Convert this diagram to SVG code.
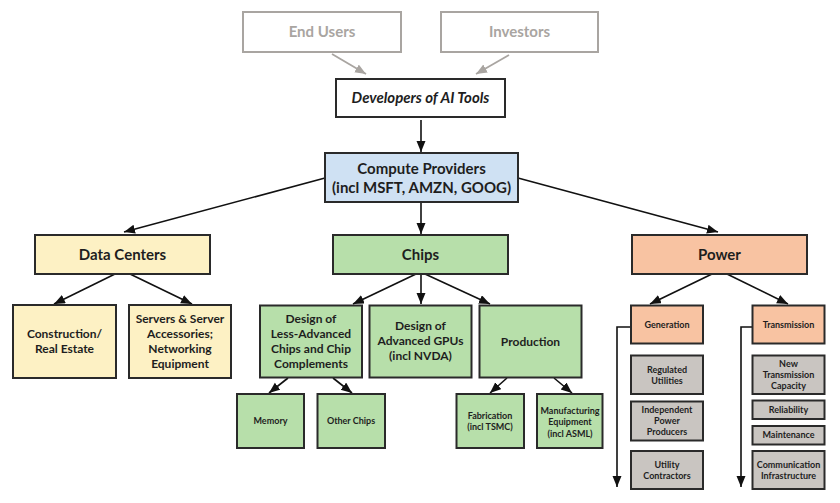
<svg xmlns="http://www.w3.org/2000/svg" width="840" height="503" viewBox="0 0 840 503">
<style>
text{font-family:Lato,"Liberation Sans",sans-serif;font-weight:bold;fill:#1e1e1e;text-anchor:middle}
.box{stroke:#2a2a2a;stroke-width:2}
.ghost{fill:#fff;stroke:#a9a5a1;stroke-width:2}
.gt{fill:#a9a5a1;font-size:15px}
.blue{fill:#cfe1f3}
.yel{fill:#fdf1c4}
.grn{fill:#b7dfaa}
.sal{fill:#f8c3a2}
.gry{fill:#c9c5c1}
.wht{fill:#fff}
.f14{font-size:15px}
.f11{font-size:12px}
.f9{font-size:9px}
.con{fill:none;stroke:#111;stroke-width:1.6}
.gcon{fill:none;stroke:#a9a5a1;stroke-width:1.8}
</style>
<defs>
<marker id="ah" markerUnits="userSpaceOnUse" markerWidth="12" markerHeight="10" refX="11" refY="4.5" orient="auto"><path d="M0,0 L11,4.5 L0,9 z" fill="#111"/></marker>
<marker id="gah" markerUnits="userSpaceOnUse" markerWidth="12" markerHeight="10" refX="11" refY="4.5" orient="auto"><path d="M0,0 L11,4.5 L0,9 z" fill="#a9a5a1"/></marker>
</defs>
<rect width="840" height="503" fill="#fff"/>
<g id="connectors">
<line class="gcon" x1="332" y1="54" x2="366" y2="74" marker-end="url(#gah)"/>
<line class="gcon" x1="509" y1="55" x2="476" y2="74" marker-end="url(#gah)"/>
<line class="con" x1="421" y1="120" x2="421" y2="152" marker-end="url(#ah)"/>
<line class="con" x1="325" y1="178" x2="124" y2="232" marker-end="url(#ah)"/>
<line class="con" x1="421" y1="203" x2="421" y2="234" marker-end="url(#ah)"/>
<line class="con" x1="518" y1="178" x2="718" y2="232" marker-end="url(#ah)"/>
<line class="con" x1="115" y1="274" x2="54" y2="304" marker-end="url(#ah)"/>
<line class="con" x1="130" y1="274" x2="192" y2="304" marker-end="url(#ah)"/>
<line class="con" x1="416" y1="274" x2="353" y2="304" marker-end="url(#ah)"/>
<line class="con" x1="421" y1="274" x2="421" y2="304" marker-end="url(#ah)"/>
<line class="con" x1="425" y1="274" x2="490" y2="304" marker-end="url(#ah)"/>
<line class="con" x1="288" y1="378" x2="269" y2="393" marker-end="url(#ah)"/>
<line class="con" x1="333" y1="378" x2="352" y2="393" marker-end="url(#ah)"/>
<line class="con" x1="507" y1="378" x2="490" y2="393" marker-end="url(#ah)"/>
<line class="con" x1="554" y1="378" x2="572" y2="393" marker-end="url(#ah)"/>
<line class="con" x1="712" y1="274" x2="650" y2="304" marker-end="url(#ah)"/>
<line class="con" x1="727" y1="274" x2="788" y2="304" marker-end="url(#ah)"/>
<polyline class="con" points="631,327 617,327 617,487" marker-end="url(#ah)"/>
<polyline class="con" points="752,327 741,327 741,487" marker-end="url(#ah)"/>
</g>
<g id="end-users"><rect class="ghost" x="243" y="12" width="158" height="40"/><text class="gt" x="322" y="37">End Users</text></g>
<g id="investors"><rect class="ghost" x="441" y="12" width="157" height="40"/><text class="gt" x="519.5" y="37">Investors</text></g>
<g id="developers"><rect class="box wht" x="336" y="79" width="169" height="38"/><text class="f14" x="420.5" y="103" font-style="italic">Developers of AI Tools</text></g>
<g id="compute"><rect class="box blue" x="325" y="153" width="193" height="49"/><text class="f14" x="421.5" y="174">Compute Providers</text><text class="f14" x="421.5" y="193">(incl MSFT, AMZN, GOOG)</text></g>
<g id="data-centers"><rect class="box yel" x="35" y="235" width="175" height="39"/><text class="f14" x="122.5" y="260">Data Centers</text></g>
<g id="chips"><rect class="box grn" x="333" y="235" width="175" height="39"/><text class="f14" x="420.5" y="260">Chips</text></g>
<g id="power"><rect class="box sal" x="632" y="235" width="175" height="39"/><text class="f14" x="719.5" y="260">Power</text></g>
<g id="construction"><rect class="box yel" x="13" y="305" width="103" height="73"/><text class="f11" x="64.5" y="337.5">Construction/</text><text class="f11" x="64.5" y="353">Real Estate</text></g>
<g id="servers"><rect class="box yel" x="129" y="305" width="102" height="73"/><text class="f11" x="180" y="323">Servers &amp; Server</text><text class="f11" x="180" y="338">Accessories;</text><text class="f11" x="180" y="353">Networking</text><text class="f11" x="180" y="368">Equipment</text></g>
<g id="less-advanced"><rect class="box grn" x="260" y="305.5" width="102" height="72"/><text class="f11" x="311" y="322.5">Design of</text><text class="f11" x="311" y="337.5">Less-Advanced</text><text class="f11" x="311" y="352.5">Chips and Chip</text><text class="f11" x="311" y="367.5">Complements</text></g>
<g id="advanced-gpus"><rect class="box grn" x="369.5" y="305.5" width="102" height="72"/><text class="f11" x="420.5" y="330">Design of</text><text class="f11" x="420.5" y="345">Advanced GPUs</text><text class="f11" x="420.5" y="360">(incl NVDA)</text></g>
<g id="production"><rect class="box grn" x="479.5" y="305.5" width="102" height="72"/><text class="f11" x="530.5" y="345.5">Production</text></g>
<g id="memory"><rect class="box grn" x="237" y="394" width="67" height="54"/><text class="f9" x="270.5" y="424">Memory</text></g>
<g id="other-chips"><rect class="box grn" x="317.5" y="394" width="67.5" height="54"/><text class="f9" x="351" y="424">Other Chips</text></g>
<g id="fabrication"><rect class="box grn" x="456.5" y="394" width="67.5" height="54"/><text class="f9" x="490" y="418.5">Fabrication</text><text class="f9" x="490" y="429.5">(incl TSMC)</text></g>
<g id="manufacturing"><rect class="box grn" x="537" y="394" width="65.5" height="54"/><text class="f9" x="570" y="413.5">Manufacturing</text><text class="f9" x="570" y="425">Equipment</text><text class="f9" x="570" y="436.5">(incl ASML)</text></g>
<g id="generation"><rect class="box sal" x="631" y="305.5" width="72" height="38"/><text class="f9" x="667" y="327.5">Generation</text></g>
<g id="transmission"><rect class="box sal" x="752.5" y="305.5" width="72" height="38"/><text class="f9" x="788.5" y="327.5">Transmission</text></g>
<g id="regulated-utilities"><rect class="box gry" x="631" y="355.5" width="72" height="38.5"/><text class="f9" x="667" y="373">Regulated</text><text class="f9" x="667" y="384">Utilities</text></g>
<g id="ipp"><rect class="box gry" x="631" y="401.5" width="72" height="39"/><text class="f9" x="667" y="412.5">Independent</text><text class="f9" x="667" y="424">Power</text><text class="f9" x="667" y="435">Producers</text></g>
<g id="utility-contractors"><rect class="box gry" x="631" y="451" width="72" height="38"/><text class="f9" x="667" y="467.5">Utility</text><text class="f9" x="667" y="479">Contractors</text></g>
<g id="new-transmission"><rect class="box gry" x="752.5" y="355.5" width="72" height="38.5"/><text class="f9" x="788.5" y="366.5">New</text><text class="f9" x="788.5" y="377.5">Transmission</text><text class="f9" x="788.5" y="389">Capacity</text></g>
<g id="reliability"><rect class="box gry" x="752.5" y="400.5" width="72" height="18.5"/><text class="f9" x="788.5" y="412.5">Reliability</text></g>
<g id="maintenance"><rect class="box gry" x="752.5" y="426" width="72" height="18.5"/><text class="f9" x="788.5" y="438">Maintenance</text></g>
<g id="communication"><rect class="box gry" x="752.5" y="451" width="72" height="38"/><text class="f9" x="788.5" y="467.5">Communication</text><text class="f9" x="788.5" y="478.5">Infrastructure</text></g>
</svg>
